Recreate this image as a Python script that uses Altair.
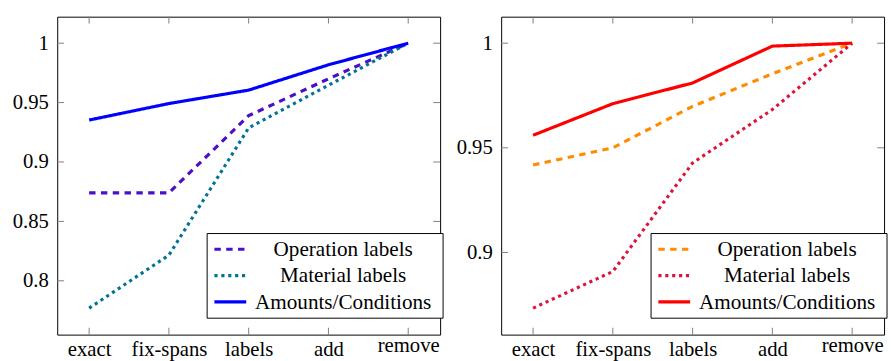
import altair as alt
import pandas as pd

# ---- data ----
steps = ["exact", "fix-spans", "labels", "add", "remove"]
series = ["Operation labels", "Material labels", "Amounts/Conditions"]

left_op = [0.874, 0.874, 0.939, 0.970, 1.0]
left_mat = [0.777, 0.8216, 0.9287, 0.9646, 1.0]
left_amt = [0.9353, 0.9492, 0.9605, 0.9818, 1.0]

right_op = [0.9418, 0.950, 0.9698, 0.9854, 1.0]
right_mat = [0.8734, 0.8909, 0.9428, 0.9683, 1.0]
right_amt = [0.956, 0.9711, 0.981, 0.9986, 1.0]

left_yticks = [0.8, 0.85, 0.9, 0.95, 1.0]
right_yticks = [0.9, 0.95, 1.0]

# ---- styles ----
left_colors = ["#4b0fc9", "#007396", "#0000ff"]
right_colors = ["#ff8c00", "#dc143c", "#ff0000"]
dashes = [[6.5, 5.5], [3.2, 3.8], [1, 0]]

W, H = 389, 323
FONT = "'Liberation Serif', 'Times New Roman', Times, serif"
FS = 21
TICK = 7
TICKC = "#808080"

# legend layout (plot-area pixels)
LEG_X0, LEG_X1, LEG_Y0, LEG_Y1 = 152.3, 392, 220.3, 306.3
SAMP_X0, SAMP_X1 = 159.7, 192
TEXT_X = 290.5
ROW0, ROWSTEP = 236.3, 26.7


def panel(vals, colors, yticks):
    df = pd.DataFrame(
        [{"step": s, "series": name, "value": v}
         for name, vs in zip(series, vals) for s, v in zip(steps, vs)]
    )
    allv = [v for vs in vals for v in vs]
    lo, hi = min(allv), max(allv)
    pad = 0.1 * (hi - lo)

    xs = alt.Scale(type="point", domain=steps, padding=0.4)
    ys = alt.Scale(domain=[lo - pad, hi + pad], nice=False, zero=False)
    cs = alt.Scale(domain=series, range=colors)
    ds = alt.Scale(domain=series, range=dashes)

    xaxis = alt.Axis(
        title=None, ticks=False, domain=False, grid=False, labelAngle=0,
        labelFont=FONT, labelFontSize=FS, labelColor="black",
        labelBaseline="alphabetic",
        labelPadding={"condition": {"test": "datum.label == 'remove'", "value": 17}, "value": 21},
    )
    yaxis = alt.Axis(
        title=None, values=yticks, format=".2~f", ticks=False, domain=False,
        grid=False, labelFont=FONT, labelFontSize=FS, labelColor="black",
        labelPadding=9, labelBaseline="middle",
    )
    X = alt.X("step:N", scale=xs, sort=steps, axis=xaxis)
    Y = alt.Y("value:Q", scale=ys, axis=yaxis)

    lines = alt.Chart(df).mark_line(strokeWidth=3.2, strokeCap="butt").encode(
        x=X, y=Y,
        color=alt.Color("series:N", scale=cs, legend=None),
        strokeDash=alt.StrokeDash("series:N", scale=ds, legend=None),
    )

    tx = pd.DataFrame({"step": steps})
    ty = pd.DataFrame({"value": yticks})
    xt_b = alt.Chart(tx).mark_rule(color=TICKC, strokeWidth=1).encode(
        x=X, y=alt.value(H), y2=alt.value(H - TICK))
    xt_t = alt.Chart(tx).mark_rule(color=TICKC, strokeWidth=1).encode(
        x=X, y=alt.value(0), y2=alt.value(TICK))
    yt_l = alt.Chart(ty).mark_rule(color=TICKC, strokeWidth=1).encode(
        y=Y, x=alt.value(0), x2=alt.value(TICK))
    yt_r = alt.Chart(ty).mark_rule(color=TICKC, strokeWidth=1).encode(
        y=Y, x=alt.value(W), x2=alt.value(W - TICK))

    box = alt.Chart(pd.DataFrame({"k": [0]})).mark_rect(
        fill="white", stroke="black", strokeWidth=1).encode(
        x=alt.value(LEG_X0), x2=alt.value(LEG_X1),
        y=alt.value(LEG_Y0), y2=alt.value(LEG_Y1))

    ldf = pd.DataFrame({"series": series, "row": list(range(len(series)))})
    base = alt.Chart(ldf).transform_calculate(py=f"{ROW0} + {ROWSTEP} * datum.row")
    samples = base.mark_rule(strokeWidth=3.2, strokeCap="butt").encode(
        x=alt.value(SAMP_X0), x2=alt.value(SAMP_X1),
        y=alt.Y("py:Q", scale=None, axis=None),
        color=alt.Color("series:N", scale=cs, legend=None),
        strokeDash=alt.StrokeDash("series:N", scale=ds, legend=None),
    )
    texts = base.mark_text(font=FONT, fontSize=21.5, align="center",
                           baseline="middle", color="black", dy=1).encode(
        x=alt.value(TEXT_X),
        y=alt.Y("py:Q", scale=None, axis=None),
        text="series:N",
    )

    return alt.layer(lines, xt_b, xt_t, yt_l, yt_r, box, samples, texts).properties(
        width=W, height=H)


left = panel([left_op, left_mat, left_amt], left_colors, left_yticks)
right = panel([right_op, right_mat, right_amt], right_colors, right_yticks)

chart = alt.hconcat(left, right, spacing=11).resolve_scale(
    color="independent", strokeDash="independent"
).properties(
    padding={"left": 3, "top": 5, "right": 0, "bottom": 0}
).configure_view(stroke="black", strokeWidth=1)

chart.save("out.html", embed_options={"renderer": "svg", "actions": False})
